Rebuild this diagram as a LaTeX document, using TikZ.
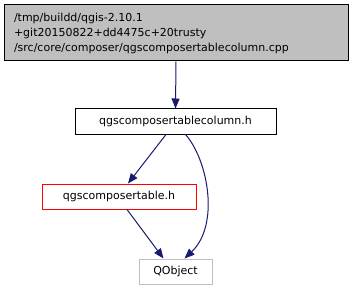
\documentclass[tikz,border=0pt]{standalone}
\usepackage{fontspec}
\setmainfont{DejaVu Sans}
\usetikzlibrary{arrows.meta}
\definecolor{edgeblue}{HTML}{191970}
\definecolor{boxgray}{HTML}{BFBFBF}
\begin{document}
\begin{tikzpicture}[x=1pt,y=-1pt,
  filebox/.style={draw=black,line width=1pt,fill=white,minimum height=25pt,
    inner sep=0pt,font=\fontsize{11}{13}\selectfont},
  dep/.style={draw=edgeblue,line width=1pt,-{Triangle[length=10pt,width=8pt]}}]
  \useasboundingbox (0,0) rectangle (352,291);
  % source file at the root of the include graph
  \node[filebox,fill=boxgray,minimum width=344pt,minimum height=56pt,
        text width=324pt,align=left,inner xsep=10pt,
        font=\fontsize{11}{15}\selectfont] (src) at (176,33)
    {/tmp/buildd/qgis-2.10.1\\+git20150822+dd4475c+20trusty\\/src/core/composer/qgscomposertablecolumn.cpp};
  \node[filebox,minimum width=201pt] (col) at (175.5,121.5) {qgscomposertablecolumn.h};
  \node[filebox,draw=red,minimum width=154pt] (tab) at (119,196.5) {qgscomposertable.h};
  \node[filebox,draw=boxgray,minimum width=73pt] (qobj) at (175.5,271.5) {QObject};
  % include edges
  \draw[dep] (src.south) -- (col.north);
  \draw[dep] ([xshift=-9.5pt]col.south) -- ([xshift=9pt]tab.north);
  \draw[dep] ([xshift=10pt]col.south) .. controls (208,160) and (220,225) .. ([xshift=9pt]qobj.north);
  \draw[dep] ([xshift=8pt]tab.south) -- ([xshift=-12pt]qobj.north);
\end{tikzpicture}
\end{document}
